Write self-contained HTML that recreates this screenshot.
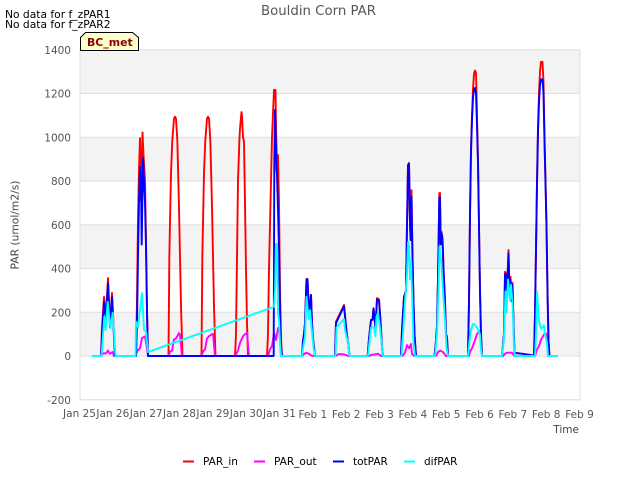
<!DOCTYPE html>
<html>
<head>
<meta charset="utf-8">
<style>
html,body{margin:0;padding:0;background:#fff;}
svg{display:block;font-family:"DejaVu Sans","Liberation Sans",sans-serif;}
</style>
</head>
<body>
<svg id="chart" xmlns="http://www.w3.org/2000/svg" width="640" height="480" viewBox="0 0 640 480">
  <g id="bands"></g>
  <g id="grid"></g>
  <g id="series"></g>
  <g id="yticks"></g>
  <g id="xticks"></g>
  <text x="318.5" y="15" text-anchor="middle" font-size="13.3" fill="#555">Bouldin Corn PAR</text>
  <text x="5" y="18" font-size="10.7" fill="#000">No data for f_zPAR1</text>
  <text x="5" y="28" font-size="10.7" fill="#000">No data for f_zPAR2</text>
  <path d="M80.5 50.5V37.5L85.5 32.5H132.5L138.5 37.5V50.5Z" fill="#ffffcc" stroke="#000" stroke-width="1"/>
  <text x="87" y="46" font-size="10.9" font-weight="bold" fill="#8b0000">BC_met</text>
  <text transform="translate(18.5,225) rotate(-90)" text-anchor="middle" font-size="10.7" fill="#444">PAR (umol/m2/s)</text>
  <text x="579" y="433" text-anchor="end" font-size="10.5" fill="#444">Time</text>
  <g>
    <line x1="183" x2="194" y1="461.5" y2="461.5" stroke="#ff0000" stroke-width="2"/>
    <text x="203" y="465" font-size="10.5" fill="#000">PAR_in</text>
    <line x1="254" x2="265" y1="461.5" y2="461.5" stroke="#ff00ff" stroke-width="2"/>
    <text x="274" y="465" font-size="10.5" fill="#000">PAR_out</text>
    <line x1="333" x2="344" y1="461.5" y2="461.5" stroke="#0000ff" stroke-width="2"/>
    <text x="353" y="465" font-size="10.5" fill="#000">totPAR</text>
    <line x1="404" x2="415" y1="461.5" y2="461.5" stroke="#00ffff" stroke-width="2"/>
    <text x="424" y="465" font-size="10.5" fill="#000">difPAR</text>
  </g>
</svg>
<script>
const yTickValues = [-200, 0, 200, 400, 600, 800, 1000, 1200, 1400];
const xTickDays = [0,1,2,3,4,5,6,7,8,9,10,11,12,13,14,15];
const xTickLabels = ["Jan 25","Jan 26","Jan 27","Jan 28","Jan 29","Jan 30","Jan 31","Feb 1","Feb 2","Feb 3","Feb 4","Feb 5","Feb 6","Feb 7","Feb 8","Feb 9"];

const parInDays = [0.36,0.63,0.66,0.72,0.78,0.84,0.90,0.96,1.005,1.05,1.68,1.71,1.74,1.77,1.80,1.83,1.875,1.905,1.95,1.98,2.01,2.04,2.655,2.68,2.73,2.77,2.82,2.85,2.88,2.92,2.97,3.03,3.075,3.645,3.67,3.72,3.76,3.81,3.84,3.87,3.91,3.96,4.02,4.065,4.65,4.68,4.71,4.74,4.785,4.80,4.845,4.86,4.89,4.92,4.95,4.98,5.01,5.04,5.61,5.64,5.67,5.715,5.76,5.82,5.865,5.88,5.91,5.94,5.97,6.0,6.03,6.06,6.66,6.69,6.72,6.75,6.795,6.825,6.855,6.885,6.93,6.96,6.99,7.05,7.65,7.68,7.92,8.0,8.055,8.085,8.63,8.67,8.73,8.775,8.805,8.865,8.91,8.97,9.015,9.06,9.09,9.63,9.66,9.72,9.78,9.81,9.84,9.87,9.90,9.92,9.945,9.975,10.005,10.035,10.08,10.635,10.68,10.71,10.74,10.78,10.80,10.82,10.845,10.875,10.905,10.95,10.98,11.01,11.04,11.64,11.67,11.70,11.73,11.76,11.79,11.82,11.85,11.88,11.91,11.94,11.97,12.0,12.03,12.06,12.66,12.72,12.75,12.78,12.81,12.855,12.885,12.915,12.945,12.975,13.005,13.035,13.62,13.65,13.68,13.71,13.74,13.77,13.80,13.83,13.875,13.905,13.935,13.965,13.995,14.025,14.055,14.085];
const parInValues = [0,0,130,270,190,356,140,288,150,0,0,256,620,850,996,710,1022,918,800,530,210,0,0,452,836,987,1085,1094,1085,987,681,226,0,0,452,836,987,1085,1094,1085,987,681,226,0,0,100,450,800,1000,1040,1115,1100,1000,980,700,400,150,0,0,100,400,700,1000,1216,1216,1050,850,919,700,300,80,0,0,70,100,150,352,352,250,190,279,150,80,0,0,157,233,105,50,0,0,80,165,165,218,130,265,258,160,40,0,0,120,270,300,600,875,882,600,530,758,450,250,100,0,0,70,140,350,745,745,520,568,540,400,250,100,90,0,0,250,650,950,1100,1220,1290,1305,1295,1100,900,600,300,100,0,0,100,385,380,300,484,300,362,260,335,150,0,0,200,500,800,1050,1200,1300,1345,1345,1250,1000,800,600,300,70,0];

const parOutDays = [0.63,0.66,0.69,0.78,0.84,0.90,0.975,1.02,1.65,1.74,1.80,1.86,1.95,1.995,2.04,2.655,2.70,2.76,2.82,2.88,2.97,3.0,3.06,3.645,3.69,3.75,3.81,3.87,3.96,3.99,4.05,4.65,4.74,4.80,4.89,4.95,5.01,5.07,5.64,5.70,5.76,5.82,5.88,5.94,5.985,6.03,6.66,6.69,6.78,6.87,6.93,6.99,7.68,7.74,7.89,7.98,8.04,8.67,8.73,8.88,8.94,9.03,9.675,9.75,9.81,9.87,9.93,9.96,10.02,10.68,10.74,10.80,10.89,10.98,11.67,11.70,11.76,11.85,11.91,12.0,12.03,12.06,12.69,12.75,12.81,12.96,13.02,13.2,13.65,13.71,13.77,13.83,13.89,13.95,13.995,14.04];
const parOutValues = [0,5,12,12,25,10,18,0,0,27,35,82,90,50,0,0,20,25,75,80,105,95,0,0,20,30,80,90,100,100,0,0,25,60,90,100,105,0,0,30,45,105,73,128,105,0,0,5,15,10,3,0,0,8,8,5,0,0,5,8,10,0,0,15,50,35,55,10,0,0,18,25,18,0,0,20,35,73,100,115,60,0,0,10,15,15,3,0,0,30,45,75,90,105,100,0];

const totParDays = [0.63,0.66,0.72,0.78,0.84,0.90,0.96,1.005,1.05,1.68,1.71,1.74,1.77,1.80,1.83,1.851,1.89,1.92,1.95,1.98,2.01,2.04,5.81,5.83,5.85,5.895,5.91,5.97,6.0,6.03,6.06,6.66,6.69,6.72,6.75,6.795,6.825,6.855,6.885,6.93,6.96,6.99,7.05,7.65,7.68,7.92,8.0,8.055,8.085,8.63,8.67,8.73,8.775,8.805,8.865,8.91,8.97,9.015,9.06,9.09,9.63,9.66,9.72,9.78,9.81,9.84,9.87,9.90,9.92,9.945,9.975,10.005,10.035,10.08,10.635,10.68,10.71,10.74,10.78,10.80,10.82,10.845,10.875,10.905,10.95,10.98,11.01,11.04,11.64,11.67,11.70,11.73,11.76,11.79,11.82,11.85,11.88,11.91,11.94,11.97,12.0,12.03,12.06,12.66,12.72,12.75,12.78,12.81,12.855,12.885,12.915,12.945,12.975,13.005,13.035,13.59,13.62,13.65,13.68,13.71,13.74,13.77,13.80,13.83,13.875,13.905,13.935,13.965,13.995,14.025,14.055,14.085];
const totParValues = [0,100,247,165,333,130,270,130,0,0,150,450,700,864,800,510,905,800,700,500,200,0,0,900,1125,850,830,500,200,50,0,0,70,100,150,350,350,250,190,279,150,80,0,0,150,228,105,50,0,0,80,165,165,218,130,258,255,160,40,0,0,120,270,300,600,870,880,600,530,728,450,250,100,0,0,70,140,350,725,725,510,560,530,400,250,100,80,0,0,250,640,930,1080,1180,1220,1225,1200,1050,880,590,290,100,0,0,100,375,370,300,470,300,350,250,325,150,15,3,0,180,480,780,1020,1160,1240,1265,1265,1200,980,790,590,290,70,0];

const difParDays = [0.36,0.645,0.73,0.77,0.83,0.91,0.98,1.05,1.065,1.665,1.68,1.74,1.86,1.92,1.98,2.04,5.82,5.85,5.88,5.91,5.94,5.97,6.0,6.03,6.66,6.705,6.75,6.795,6.84,6.87,6.9,6.96,7.005,7.05,7.665,7.695,7.92,7.95,8.0,8.04,8.085,8.64,8.73,8.82,8.865,8.895,8.94,9.0,9.06,9.09,9.645,9.69,9.75,9.81,9.84,9.87,9.90,9.93,9.96,10.005,10.05,10.65,10.71,10.755,10.785,10.83,10.89,10.95,10.995,11.04,11.64,11.685,11.73,11.79,11.835,11.91,12.0,12.03,12.06,12.66,12.72,12.765,12.795,12.84,12.90,12.93,12.975,13.02,13.05,13.65,13.68,13.71,13.77,13.80,13.83,13.92,13.95,14.01,14.04,14.34];
const difParValues = [0,0,180,120,248,128,198,40,0,0,157,133,288,120,110,18,225,300,512,512,200,165,60,0,0,50,90,270,200,170,210,110,40,0,0,130,169,120,85,70,0,0,130,130,90,180,197,130,40,0,0,100,250,370,520,500,350,440,300,60,0,0,100,300,500,440,300,160,40,0,0,70,120,146,145,130,100,30,0,0,80,294,197,350,256,325,242,40,0,0,100,294,160,142,125,140,100,60,0,0];

const xScale = function (day) { return 80 + day * (500 / 15); };
const yScale = function (value) { return 356 - value * 0.21875; };
const svgNS = "http://www.w3.org/2000/svg";

function makeEl(tag, attrs, parent) {
  const el = document.createElementNS(svgNS, tag);
  Object.keys(attrs).forEach(function (k) { el.setAttribute(k, attrs[k]); });
  parent.appendChild(el);
  return el;
}

const bands = document.getElementById("bands");
const grid = document.getElementById("grid");
const yticks = document.getElementById("yticks");
const xticks = document.getElementById("xticks");
const seriesGroup = document.getElementById("series");

const bgRect = makeEl("rect", {x: 80, y: yScale(1400), width: 500, height: yScale(-200) - yScale(1400), fill: "#ffffff"}, bands);



yTickValues.forEach(function (v, i) {
  if (i < yTickValues.length - 1 && i % 2 === 1) {
    const band = makeEl("rect", {x: 80, y: yScale(yTickValues[i + 1]), width: 500, height: yScale(v) - yScale(yTickValues[i + 1]), fill: "#f3f3f3"}, bands);
    
    
  }
  const line = makeEl("line", {x1: 80, x2: 580, y1: yScale(v), y2: yScale(v), stroke: "#dfdfdf", "stroke-width": 1}, grid);
  
  
  const label = makeEl("text", {x: 71, y: yScale(v) + 4, "text-anchor": "end", "font-size": 10.5, fill: "#555"}, yticks);
  
  
  label.textContent = String(v);
});

const frame = makeEl("path", {d: "M80 " + yScale(1400) + "V" + yScale(-200) + "H580V" + yScale(1400), fill: "none", stroke: "#dfdfdf", "stroke-width": 1}, grid);



xTickDays.forEach(function (d, i) {
  const isJan = xTickLabels[i].indexOf("Jan") === 0;
  const label = makeEl("text", {x: xScale(d) - 0.5, y: isJan ? 417 : 418, "text-anchor": "middle", "font-size": 10.5, fill: "#555"}, xticks);
  
  
  label.textContent = xTickLabels[i];
});

function drawSeries(days, values, color, name) {
  let d = "";
  days.forEach(function (t, i) {
    d += (i === 0 ? "M" : "L") + xScale(t).toFixed(2) + " " + yScale(values[i]).toFixed(2);
  });
  const path = makeEl("path", {d: d, fill: "none", stroke: color, "stroke-width": 1.9, "stroke-linejoin": "round"}, seriesGroup);
  
  
}

drawSeries(parInDays, parInValues, "#ff0000", "par-in-line");
drawSeries(parOutDays, parOutValues, "#ff00ff", "par-out-line");
drawSeries(totParDays, totParValues, "#0000ff", "tot-par-line");
drawSeries(difParDays, difParValues, "#00ffff", "dif-par-line");
</script>
</body>
</html>
